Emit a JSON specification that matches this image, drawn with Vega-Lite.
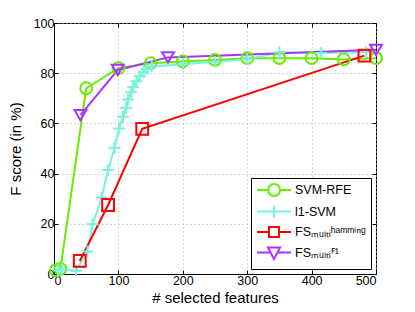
{
  "$schema": "https://vega.github.io/schema/vega-lite/v6.json",
  "width": 322,
  "height": 251,
  "autosize": {"type": "none"},
  "padding": {"left": 54, "top": 23, "right": 39, "bottom": 38},
  "config": {
    "view": {"stroke": "#000000", "strokeWidth": 1},
    "font": "Liberation Sans",
    "axis": {
      "labelFont": "Liberation Sans",
      "titleFont": "Liberation Sans",
      "labelFontSize": 12.5,
      "titleFontSize": 15,
      "titleFontWeight": "normal",
      "labelColor": "#000000",
      "titleColor": "#000000",
      "domainColor": "#000000",
      "tickColor": "#000000",
      "gridColor": "#b0b0b0",
      "gridDash": [1, 3],
      "gridWidth": 1
    },
    "legend": {
      "labelFont": "Liberation Sans",
      "labelFontSize": 12.5,
      "labelColor": "#000000"
    }
  },
  "data": {
    "values": [
      {"series": "SVM-RFE", "x": 3, "y": 1.5},
      {"series": "SVM-RFE", "x": 10, "y": 2},
      {"series": "SVM-RFE", "x": 50, "y": 74},
      {"series": "SVM-RFE", "x": 100, "y": 82},
      {"series": "SVM-RFE", "x": 150, "y": 84},
      {"series": "SVM-RFE", "x": 200, "y": 84.7},
      {"series": "SVM-RFE", "x": 250, "y": 85.3},
      {"series": "SVM-RFE", "x": 300, "y": 86},
      {"series": "SVM-RFE", "x": 350, "y": 86},
      {"series": "SVM-RFE", "x": 400, "y": 86},
      {"series": "SVM-RFE", "x": 450, "y": 85.5},
      {"series": "SVM-RFE", "x": 500, "y": 86},
      {"series": "l1-SVM", "x": 6, "y": 1.5},
      {"series": "l1-SVM", "x": 12, "y": 1.8},
      {"series": "l1-SVM", "x": 34, "y": 1.3},
      {"series": "l1-SVM", "x": 52, "y": 9},
      {"series": "l1-SVM", "x": 60, "y": 19.8},
      {"series": "l1-SVM", "x": 74, "y": 30.4},
      {"series": "l1-SVM", "x": 84, "y": 41.4},
      {"series": "l1-SVM", "x": 94, "y": 50.3},
      {"series": "l1-SVM", "x": 101, "y": 58},
      {"series": "l1-SVM", "x": 107, "y": 62.6},
      {"series": "l1-SVM", "x": 112, "y": 66.2},
      {"series": "l1-SVM", "x": 115, "y": 69.5},
      {"series": "l1-SVM", "x": 120, "y": 72.4},
      {"series": "l1-SVM", "x": 123, "y": 74.5},
      {"series": "l1-SVM", "x": 128, "y": 76.8},
      {"series": "l1-SVM", "x": 133, "y": 78.8},
      {"series": "l1-SVM", "x": 139, "y": 80.4},
      {"series": "l1-SVM", "x": 144, "y": 81.7},
      {"series": "l1-SVM", "x": 152, "y": 82.7},
      {"series": "l1-SVM", "x": 200, "y": 83.6},
      {"series": "l1-SVM", "x": 250, "y": 84.6},
      {"series": "l1-SVM", "x": 300, "y": 85.6},
      {"series": "l1-SVM", "x": 350, "y": 88.3},
      {"series": "l1-SVM", "x": 415, "y": 88},
      {"series": "l1-SVM", "x": 485, "y": 88.4},
      {"series": "FS_hamming", "x": 40, "y": 5.2},
      {"series": "FS_hamming", "x": 84, "y": 27.5},
      {"series": "FS_hamming", "x": 137, "y": 57.8},
      {"series": "FS_hamming", "x": 482, "y": 87},
      {"series": "FS_F1", "x": 41, "y": 63.3},
      {"series": "FS_F1", "x": 99, "y": 81.3},
      {"series": "FS_F1", "x": 177, "y": 86.3},
      {"series": "FS_F1", "x": 500, "y": 89.3}
    ]
  },
  "resolve": {
    "scale": {"color": "independent", "shape": "independent"},
    "axis": {"x": "independent", "y": "independent"}
  },
  "layer": [
    {
      "mark": {"type": "line", "strokeWidth": 2},
      "encoding": {
        "x": {"field": "x", "type": "quantitative", "scale": {"domain": [0, 500], "nice": false},
          "axis": {"title": "# selected features", "values": [0, 100, 200, 300, 400, 500], "tickSize": -4, "labelPadding": 4, "titlePadding": 4, "grid": true}},
        "y": {"field": "y", "type": "quantitative", "scale": {"domain": [0, 100], "nice": false},
          "axis": {"title": "F score (in %)", "values": [0, 20, 40, 60, 80, 100], "tickSize": -4, "labelPadding": 4, "titlePadding": 10, "grid": true}},
        "color": {"field": "series", "type": "nominal", "legend": null,
          "scale": {"domain": ["SVM-RFE", "l1-SVM", "FS_hamming", "FS_F1"], "range": ["#66ee00", "#77f2dc", "#ff0000", "#aa33ff"]}},
        "order": {"field": "x", "type": "quantitative"}
      }
    },
    {
      "mark": {"type": "point", "filled": false, "strokeWidth": 2, "size": 140, "opacity": 1},
      "encoding": {
        "x": {"field": "x", "type": "quantitative", "axis": null},
        "y": {"field": "y", "type": "quantitative", "axis": null},
        "color": {"field": "series", "type": "nominal", "legend": null,
          "scale": {"domain": ["SVM-RFE", "l1-SVM", "FS_hamming", "FS_F1"], "range": ["#66ee00", "#77f2dc", "#ff0000", "#aa33ff"]}},
        "shape": {"field": "series", "type": "nominal", "legend": null,
          "scale": {"domain": ["SVM-RFE", "l1-SVM", "FS_hamming", "FS_F1"], "range": ["circle", "M-1,0L1,0M0,-1L0,1", "square", "triangle-down"]}}
      }
    },
    {
      "transform": [{"filter": "datum.x < 0"}],
      "mark": {"type": "point", "filled": false, "strokeWidth": 2, "opacity": 1},
      "encoding": {
        "x": {"field": "x", "type": "quantitative",
          "axis": {"orient": "top", "labels": false, "title": null, "grid": false, "domain": false, "tickSize": -4, "values": [0, 100, 200, 300, 400, 500]}},
        "y": {"field": "y", "type": "quantitative",
          "axis": {"orient": "right", "labels": false, "title": null, "grid": false, "domain": false, "tickSize": -4, "values": [0, 20, 40, 60, 80, 100]}},
        "color": {"field": "series", "type": "nominal", "title": null,
          "scale": {"domain": ["SVM-RFE", "l1-SVM", "FS_hamming", "FS_F1"], "range": ["#66ee00", "#77f2dc", "#ff0000", "#aa33ff"]},
          "legend": {"orient": "bottom-right", "offset": 5, "strokeColor": "#000000", "fillColor": "#ffffff", "padding": 5,
            "symbolSize": 144, "symbolStrokeWidth": 2, "symbolOpacity": 1, "rowPadding": 1.5, "labelOffset": 25,
            "labelExpr": "datum.label == 'FS_hamming' ? 'FSₘᵤₗₜᵢʰᵃᵐᵐⁱⁿᵍ' : datum.label == 'FS_F1' ? 'FSₘᵤₗₜᵢꟳ¹' : datum.label"}},
        "shape": {"field": "series", "type": "nominal", "title": null,
          "scale": {"domain": ["SVM-RFE", "l1-SVM", "FS_hamming", "FS_F1"],
            "range": [
              "M-1,0L0.85,0M2.85,0L4.67,0M2.85,0A1,1,0,1,1,0.85,0A1,1,0,1,1,2.85,0",
              "M-1,0L4.67,0M1.83,-1L1.83,1",
              "M-1,0L1.0,0M2.67,0L4.67,0M1.0,-0.83L2.67,-0.83L2.67,0.83L1.0,0.83Z",
              "M-1,0L1.25,0M2.42,0L4.67,0M0.83,-0.85L2.83,-0.85L1.83,1.1Z"
            ]},
          "legend": {"orient": "bottom-right", "offset": 5, "strokeColor": "#000000", "fillColor": "#ffffff", "padding": 5,
            "symbolSize": 144, "symbolStrokeWidth": 2, "symbolOpacity": 1, "rowPadding": 1.5, "labelOffset": 25,
            "labelExpr": "datum.label == 'FS_hamming' ? 'FSₘᵤₗₜᵢʰᵃᵐᵐⁱⁿᵍ' : datum.label == 'FS_F1' ? 'FSₘᵤₗₜᵢꟳ¹' : datum.label"}}
      }
    }
  ]
}
